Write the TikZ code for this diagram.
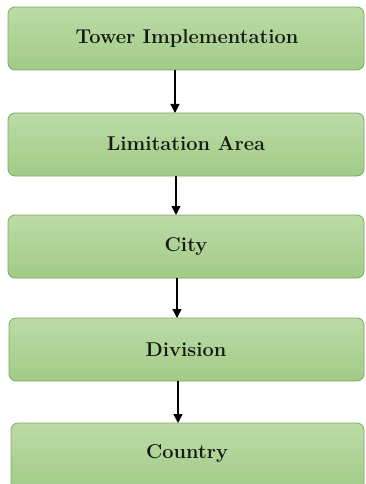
\documentclass[tikz,border=0pt]{standalone}
\usetikzlibrary{arrows.meta}
\definecolor{boxtop}{HTML}{BBDBA7}
\definecolor{boxbot}{HTML}{A2CB86}
\definecolor{boxline}{HTML}{7FA866}
\definecolor{txt}{HTML}{141A12}
\tikzset{
  stagebox/.style={draw=boxline, line width=0.8pt, rounded corners=7pt,
    top color=boxtop, bottom color=boxbot},
  stagetext/.style={text=txt, font=\fontsize{20}{24}\selectfont\bfseries},
  flow/.style={draw=black, line width=1.3pt, -{Triangle[width=9pt,length=9pt]}}
}
\begin{document}
\begin{tikzpicture}[x=1pt,y=-1pt]
\useasboundingbox (0,0) rectangle (365,484);
\path[stagebox] (8,7) rectangle (364,70);
\node[stagetext] (t1) at (187,39) {Tower Implementation};
\path[stagebox] (8,113) rectangle (364,176);
\node[stagetext] (t2) at (186,144) {Limitation Area};
\path[stagebox] (8,215) rectangle (364,278);
\node[stagetext] (t3) at (186,247) {City};
\path[stagebox] (9,318) rectangle (364,381);
\node[stagetext] (t4) at (186,350) {Division};
\path[stagebox] (11,423) rectangle (364,490);
\node[stagetext] (t5) at (187,454) {Country};
\coordinate (a1s) at (175,70); \coordinate (a1e) at (175,113);
\coordinate (a2s) at (176,176); \coordinate (a2e) at (176,215);
\coordinate (a3s) at (177,278); \coordinate (a3e) at (177,318);
\coordinate (a4s) at (178,381); \coordinate (a4e) at (178,423);
\draw[flow] (a1s) -- (a1e);
\draw[flow] (a2s) -- (a2e);
\draw[flow] (a3s) -- (a3e);
\draw[flow] (a4s) -- (a4e);
\end{tikzpicture}
\end{document}
